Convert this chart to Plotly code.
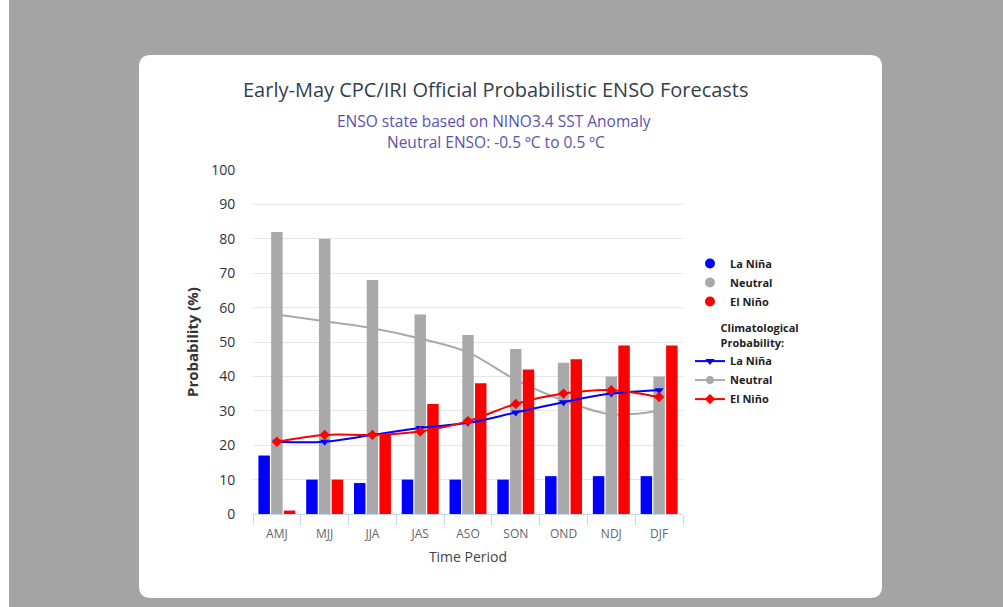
import plotly.graph_objects as go

periods = ["AMJ", "MJJ", "JJA", "JAS", "ASO", "SON", "OND", "NDJ", "DJF"]
la_nina = [17, 10, 9, 10, 10, 10, 11, 11, 11]
neutral = [82, 80, 68, 58, 52, 48, 44, 40, 40]
el_nino = [1, 10, 23, 32, 38, 42, 45, 49, 49]
clim_la_nina = [21, 21, 23, 25, 26.5, 29.5, 32.5, 35, 36]
clim_neutral = [58, 56, 54, 51, 47, 39, 33, 29, 30]
clim_el_nino = [21, 23, 23, 24, 27, 32, 35, 36, 34]
y_ticks = [0, 10, 20, 30, 40, 50, 60, 70, 80, 90, 100]

W, H = 1003, 607
PL, PR, PT, PB = 253, 683, 170, 514  # plot area in px


def px(x):
    return (x - PL) / (PR - PL)


def py(y):
    return (PB - y) / (PB - PT)


BLUE, GRAY, RED = "#0000ff", "#a9a9a9", "#ff0000"
FONT = "Open Sans"

fig = go.Figure()

# climatological neutral line on base axes (drawn below bars)
fig.add_trace(go.Scatter(x=periods, y=clim_neutral, mode="lines+markers", name="Neutral",
                         line=dict(color=GRAY, width=2, shape="spline"),
                         marker=dict(symbol="circle", size=7, color=GRAY),
                         legend="legend2", xaxis="x", yaxis="y", showlegend=False))

# bars on overlay axes
for vals, col, nm in [(la_nina, BLUE, "La Niña"), (neutral, GRAY, "Neutral"), (el_nino, RED, "El Niño")]:
    fig.add_trace(go.Bar(x=periods, y=vals, name=nm, marker=dict(color=col, line=dict(width=0)),
                         showlegend=False, xaxis="x2", yaxis="y2"))

# climatological la nina / el nino lines over bars
fig.add_trace(go.Scatter(x=periods, y=clim_la_nina, mode="lines+markers", name="La Niña",
                         line=dict(color=BLUE, width=2, shape="spline"),
                         marker=dict(symbol="triangle-down", size=8, color=BLUE),
                         showlegend=False, xaxis="x2", yaxis="y2"))
fig.add_trace(go.Scatter(x=periods, y=clim_el_nino, mode="lines+markers", name="El Niño",
                         line=dict(color=RED, width=2, shape="spline"),
                         marker=dict(symbol="diamond", size=8, color=RED),
                         showlegend=False, xaxis="x2", yaxis="y2"))

# legend entries (forecast)
for col, nm in [(BLUE, "La Niña"), (GRAY, "Neutral"), (RED, "El Niño")]:
    fig.add_trace(go.Scatter(x=[None], y=[None], mode="markers", name=nm,
                             marker=dict(symbol="circle", size=10, color=col),
                             legend="legend", xaxis="x2", yaxis="y2"))
# legend entries (climatology)
for col, nm, sym in [(BLUE, "La Niña", "triangle-down"), (GRAY, "Neutral", "circle"), (RED, "El Niño", "diamond")]:
    fig.add_trace(go.Scatter(x=[None], y=[None], mode="lines+markers", name=nm,
                             line=dict(color=col, width=2),
                             marker=dict(symbol=sym, size=8, color=col),
                             legend="legend2", xaxis="x2", yaxis="y2"))

# background card
r = 12
x0, x1, y0, y1 = 139, 882, 55, 598
path = (f"M {px(x0 + r)},{py(y0)} L {px(x1 - r)},{py(y0)} Q {px(x1)},{py(y0)} {px(x1)},{py(y0 + r)} "
        f"L {px(x1)},{py(y1 - r)} Q {px(x1)},{py(y1)} {px(x1 - r)},{py(y1)} "
        f"L {px(x0 + r)},{py(y1)} Q {px(x0)},{py(y1)} {px(x0)},{py(y1 - r)} "
        f"L {px(x0)},{py(y0 + r)} Q {px(x0)},{py(y0)} {px(x0 + r)},{py(y0)} Z")
shapes = [
    dict(type="path", path=path, xref="paper", yref="paper", fillcolor="white",
         line=dict(width=0), layer="below"),
    dict(type="rect", x0=px(0), x1=px(9), y0=py(0), y1=py(H), xref="paper", yref="paper",
         fillcolor="white", line=dict(width=0), layer="below"),
]

annotations = [
    dict(text="Early-May CPC/IRI Official Probabilistic ENSO Forecasts", x=px(495.5), y=py(89),
         xref="paper", yref="paper", showarrow=False, xanchor="center", yanchor="middle",
         font=dict(family=FONT, size=20, color="#333f4a")),
    dict(text="ENSO state based on NINO3.4 SST Anomaly", x=px(494), y=py(121),
         xref="paper", yref="paper", showarrow=False, xanchor="center", yanchor="middle",
         font=dict(family=FONT, size=15.5, color="#5a52b0")),
    dict(text="Neutral ENSO: -0.5 ºC to 0.5 ºC", x=px(495.5), y=py(142),
         xref="paper", yref="paper", showarrow=False, xanchor="center", yanchor="middle",
         font=dict(family=FONT, size=15.5, color="#5a52b0")),
]

xcommon = dict(type="category", categoryorder="array", categoryarray=periods, range=[-0.5, 8.5],
               fixedrange=True)
LEGFONT = dict(family=FONT, size=11, color="#222222", weight="bold")
IND = "&nbsp;" * 10
fig.update_layout(
    width=W, height=H,
    margin=dict(l=PL, r=W - PR, t=PT, b=H - PB, pad=0),
    paper_bgcolor="#a4a4a4", plot_bgcolor="rgba(0,0,0,0)",
    barmode="group", bargap=0.2, bargroupgap=0.1,
    shapes=shapes, annotations=annotations,
    font=dict(family=FONT),
    xaxis=dict(**xcommon, showline=True, linecolor="#ccd6eb", linewidth=1,
               ticks="outside", tickson="boundaries", ticklen=10, tickcolor="#ccd6eb",
               ticklabelstandoff=9,
               tickfont=dict(family=FONT, size=12, color="#666666"), showgrid=False,
               title=dict(text="Time Period", font=dict(family=FONT, size=14, color="#444444"), standoff=10)),
    yaxis=dict(range=[0, 100], tickvals=y_ticks, showgrid=True, gridcolor="#e6e6e6", zeroline=False,
               ticks="outside", ticklen=14, tickcolor="rgba(0,0,0,0)",
               tickfont=dict(family=FONT, size=14, color="#333333"),
               title=dict(text="<b>Probability (%)</b>", font=dict(family=FONT, size=15, color="#333333"),
                          standoff=8)),
    xaxis2=dict(**xcommon, overlaying="x", visible=False),
    yaxis2=dict(range=[0, 100], overlaying="y", visible=False),
    legend=dict(x=px(690), y=py(249), xanchor="left", yanchor="top", bgcolor="rgba(0,0,0,0)",
                font=LEGFONT, itemwidth=30, tracegroupgap=0),
    legend2=dict(x=px(690), y=py(318), xanchor="left", yanchor="top", bgcolor="rgba(0,0,0,0)",
                 font=LEGFONT,
                 title=dict(text=f"<b>{IND}Climatological<br>{IND}Probability:</b>",
                            font=LEGFONT, side="top"),
                 itemwidth=30, tracegroupgap=0),
)

fig.write_html("out.html", config={"displayModeBar": False},
               post_script="document.body.style.margin='0';")
